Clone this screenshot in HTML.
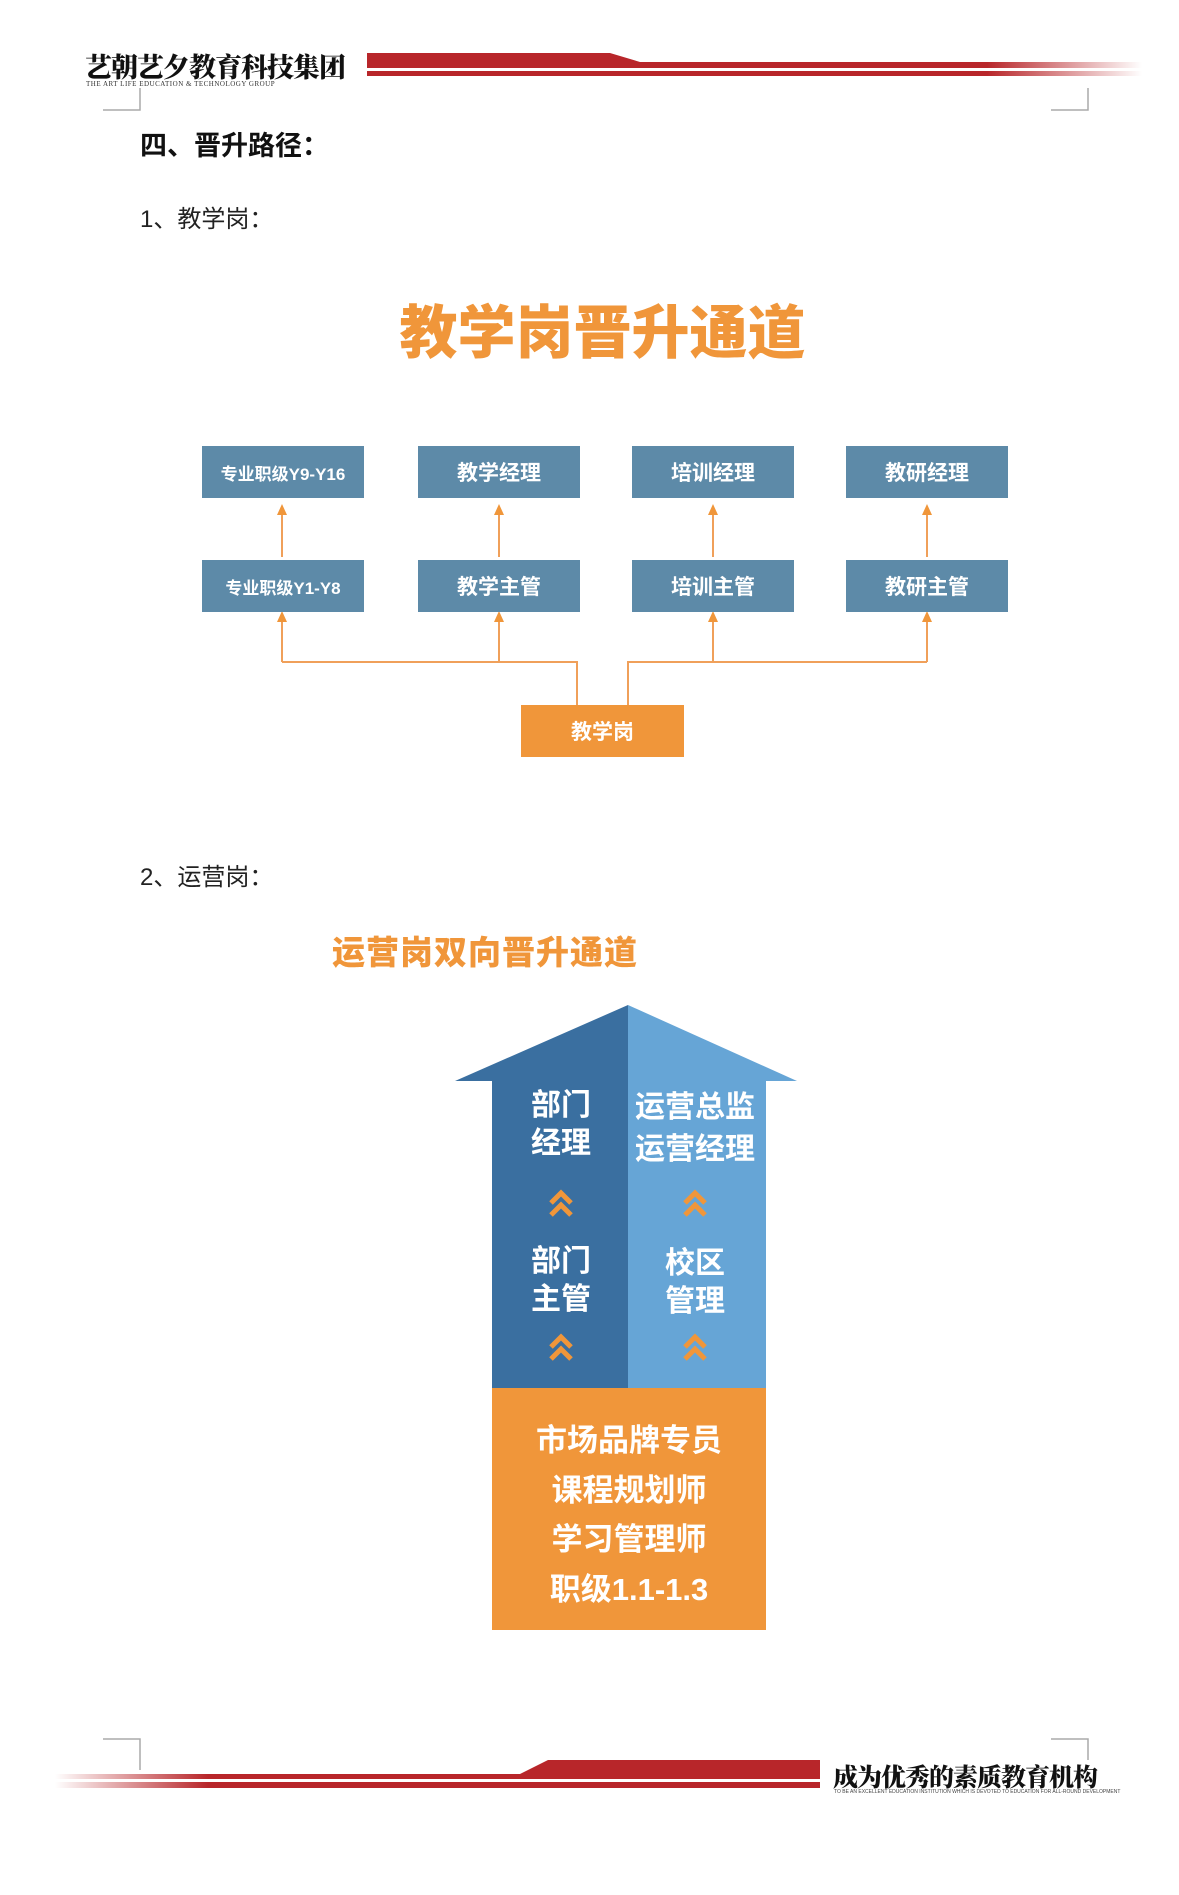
<!DOCTYPE html>
<html><head><meta charset="utf-8"><style>
html,body{margin:0;padding:0;background:#fff;}
body{width:1179px;height:1895px;position:relative;overflow:hidden;font-family:"Liberation Sans","Noto Sans CJK SC",sans-serif;}
.a{position:absolute;}
.box{position:absolute;width:162px;height:52px;background:#5d8aa8;color:#fff;font-weight:bold;font-size:21px;display:flex;align-items:center;justify-content:center;}
.t{position:absolute;color:#fff;font-weight:bold;text-align:center;line-height:38px;font-size:30px;}
</style></head><body>
<!-- header -->
<div class="a" style="left:85px;top:46px;font-family:'Noto Serif CJK SC',serif;font-weight:900;font-size:27px;letter-spacing:-1px;color:#111;">艺朝艺夕教育科技集团</div>
<div class="a" style="left:86px;top:80px;font-size:7px;color:#333;letter-spacing:0.5px;font-family:'Liberation Serif',serif;">THE ART LIFE EDUCATION &amp; TECHNOLOGY GROUP</div>
<svg class="a" style="left:0;top:0" width="1179" height="120">
<defs><linearGradient id="g1" x1="0" x2="1"><stop offset="0.8" stop-color="#b8262a"/><stop offset="1" stop-color="#b8262a" stop-opacity="0"/></linearGradient>
<linearGradient id="g2" x1="1" x2="0"><stop offset="0.8" stop-color="#b8262a"/><stop offset="1" stop-color="#b8262a" stop-opacity="0"/></linearGradient></defs>
<polygon points="367,53 610,53 640,62 1142,62 1142,68 367,68" fill="url(#g1)"/>
<rect x="367" y="71" width="775" height="5" fill="url(#g1)"/>
<path d="M103,110 H140 V88 M1051,110 H1088 V88" stroke="#aaa" stroke-width="1.5" fill="none"/>
</svg>
<div class="a" style="left:140px;top:124px;font-size:27px;font-weight:bold;color:#111;">四、晋升路径：</div>
<div class="a" style="left:140px;top:199px;font-size:24px;color:#222;">1、教学岗：</div>
<div class="a" style="left:380px;top:286px;width:445px;text-align:center;font-size:58px;font-weight:900;color:#f0963a;">教学岗晋升通道</div>
<!-- chart 1 -->
<svg class="a" style="left:0;top:0" width="1179" height="800">
<g stroke="#f0a05a" stroke-width="2" fill="none">
<path d="M282,662 V615 M499,662 V615 M713,662 V615 M927,662 V615"/>
<path d="M282,662 H577 V705 M628,705 V662 H927"/>
<path d="M282,557 V508 M499,557 V508 M713,557 V508 M927,557 V508"/>
</g>
<g fill="#f0963a">
<polygon points="282,611 277,622 287,622"/><polygon points="499,611 494,622 504,622"/><polygon points="713,611 708,622 718,622"/><polygon points="927,611 922,622 932,622"/>
<polygon points="282,504 277,515 287,515"/><polygon points="499,504 494,515 504,515"/><polygon points="713,504 708,515 718,515"/><polygon points="927,504 922,515 932,515"/>
</g>
</svg>
<div class="box" style="left:202px;top:446px;font-size:17px;">专业职级Y9-Y16</div>
<div class="box" style="left:418px;top:446px;">教学经理</div>
<div class="box" style="left:632px;top:446px;">培训经理</div>
<div class="box" style="left:846px;top:446px;">教研经理</div>
<div class="box" style="left:202px;top:560px;font-size:17px;">专业职级Y1-Y8</div>
<div class="box" style="left:418px;top:560px;">教学主管</div>
<div class="box" style="left:632px;top:560px;">培训主管</div>
<div class="box" style="left:846px;top:560px;">教研主管</div>
<div class="box" style="left:521px;top:705px;width:163px;height:52px;background:#f0963a;">教学岗</div>
<!-- section 2 -->
<div class="a" style="left:140px;top:857px;font-size:24px;color:#222;">2、运营岗：</div>
<div class="a" style="left:332px;top:926px;font-size:33px;font-weight:900;color:#f0963a;letter-spacing:1px;">运营岗双向晋升通道</div>
<div class="a" style="left:0;top:-7px;width:1179px;height:1700px;">
<svg class="a" style="left:0;top:0" width="1179" height="1700">
<polygon points="628,1012 628,1395 492,1395 492,1088 455,1088" fill="#3a6fa0"/>
<polygon points="628,1012 797,1088 766,1088 766,1395 628,1395" fill="#66a5d6"/>
<rect x="492" y="1395" width="274" height="242" fill="#f0963a"/>
<g stroke="#f0963a" stroke-width="5" fill="none">
<path d="M551,1210 L561,1200 L571,1210 M551,1222 L561,1212 L571,1222"/>
<path d="M685,1210 L695,1200 L705,1210 M685,1222 L695,1212 L705,1222"/>
<path d="M551,1354 L561,1344 L571,1354 M551,1366 L561,1356 L571,1366"/>
<path d="M685,1354 L695,1344 L705,1354 M685,1366 L695,1356 L705,1366"/>
</g>
</svg>
<div class="t" style="left:511px;top:1094px;width:100px;">部门<br>经理</div>
<div class="t" style="left:620px;top:1094px;width:150px;line-height:42px;">运营总监<br>运营经理</div>
<div class="t" style="left:511px;top:1250px;width:100px;">部门<br>主管</div>
<div class="t" style="left:645px;top:1252px;width:100px;">校区<br>管理</div>
<div class="t" style="left:492px;top:1423px;width:274px;font-size:31px;line-height:49.5px;">市场品牌专员<br>课程规划师<br>学习管理师<br>职级1.1-1.3</div>
</div>
<!-- footer -->
<svg class="a" style="left:0;top:1700px" width="1179" height="120">
<polygon points="820,60 548,60 520,74 55,74 55,79 820,79" fill="url(#g2)"/>
<rect x="55" y="82" width="765" height="6" fill="url(#g2)"/>
<path d="M103,39 H140 V70 M1051,39 H1088 V60" stroke="#aaa" stroke-width="1.5" fill="none"/>
</svg>
<div class="a" style="left:833px;top:1758px;font-family:'Noto Serif CJK SC',serif;font-weight:900;font-size:25px;letter-spacing:-1px;color:#111;">成为优秀的素质教育机构</div>
<div class="a" style="left:834px;top:1789px;font-size:5px;color:#444;white-space:nowrap;">TO BE AN EXCELLENT EDUCATION INSTITUTION WHICH IS DEVOTED TO EDUCATION FOR ALL-ROUND DEVELOPMENT</div>
</body></html>
